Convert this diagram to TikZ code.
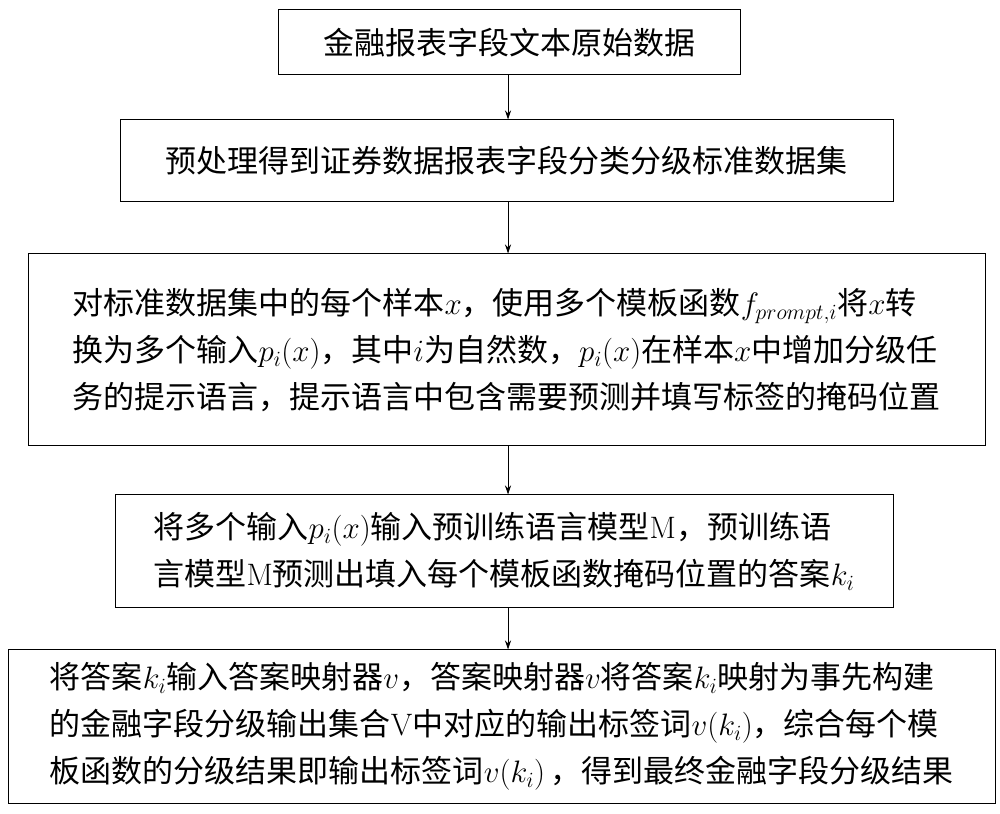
\RequirePackage{fix-cm}
\documentclass[tikz,border=0pt]{standalone}
\usepackage[no-math]{fontspec}
\setmainfont{Noto Sans CJK SC}
\usetikzlibrary{arrows.meta}
\begin{document}
\begin{tikzpicture}[x=1pt,y=1pt,
  bx/.style={draw,line width=1pt,inner sep=0pt,font=\fontsize{31}{47}\selectfont},
  arr/.style={-{Stealth[length=9pt,width=6pt]},line width=0.8pt}]
\useasboundingbox (0,0) rectangle (1000,813);
\node[bx,minimum width=462,minimum height=65] (b1) at (509,770.5) {金融报表字段文本原始数据};
\node[bx,minimum width=773,minimum height=82] (b2) at (506.5,652) {预处理得到证券数据报表字段分类分级标准数据集};
\node[bx,minimum width=957,minimum height=192,align=left] (b3) at (506.5,463) {对标准数据集中的每个样本$x$，使用多个模板函数$f_{prompt,i}$将$x$转\\换为多个输入$p_i(x)$，其中$i$为自然数，$p_i(x)$在样本$x$中增加分级任\\务的提示语言，提示语言中包含需要预测并填写标签的掩码位置};
\node[bx,minimum width=778,minimum height=113,align=left] (b4) at (504,261.5) {将多个输入$p_i(x)$输入预训练语言模型$\mathrm{M}$，预训练语\\言模型$\mathrm{M}$预测出填入每个模板函数掩码位置的答案$k_i$};
\node[bx,minimum width=987,minimum height=153,align=left] (b5) at (501.5,86.5) {将答案$k_i$输入答案映射器$v$，答案映射器$v$将答案$k_i$映射为事先构建\\的金融字段分级输出集合$\mathrm{V}$中对应的输出标签词$v(k_i)$，综合每个模\\板函数的分级结果即输出标签词$v(k_i)$\,，得到最终金融字段分级结果};
\coordinate (a1) at (508,738);
\draw[arr] (b1.south -| a1) -- (b2.north -| a1);
\draw[arr] (b2.south -| a1) -- (b3.north -| a1);
\draw[arr] (b3.south -| a1) -- (b4.north -| a1);
\draw[arr] (b4.south -| a1) -- (b5.north -| a1);
\end{tikzpicture}
\end{document}
